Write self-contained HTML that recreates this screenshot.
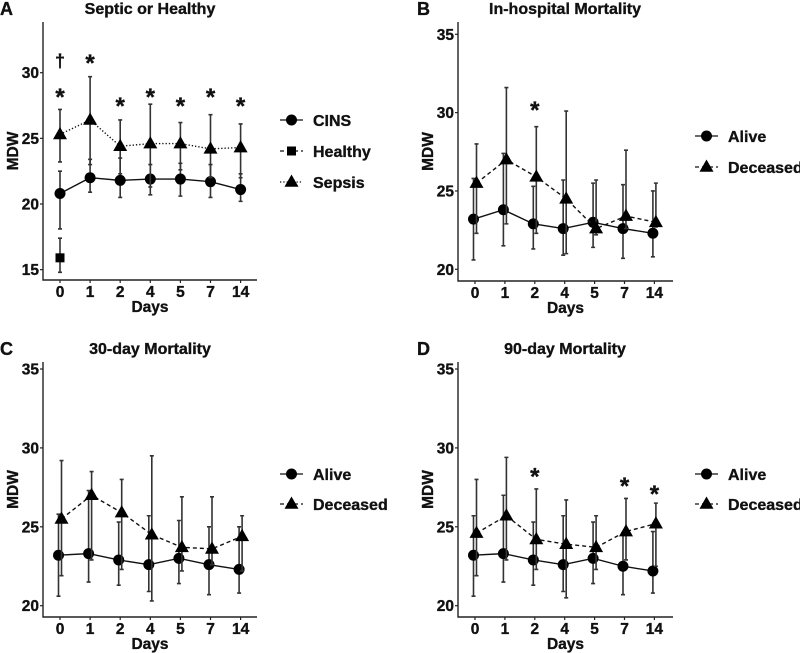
<!DOCTYPE html>
<html><head><meta charset="utf-8"><style>
html,body{margin:0;padding:0;background:#fff;}
svg{display:block;font-family:"Liberation Sans",Arial,sans-serif;font-weight:bold;}
svg text{stroke:#111;stroke-width:0.35px;}
</style></head><body>
<svg id="fig" width="800" height="653" viewBox="0 0 800 653"></svg>
<script>
const days = ["0","1","2","4","5","7","14"];
// Panel A
const aCinsMean = [20.8,22.0,21.8,21.9,21.9,21.7,21.1];
const aCinsLo   = [18.1,20.9,20.5,20.7,20.6,20.5,20.2];
const aCinsHi   = [22.5,23.4,23.5,23.0,23.1,23.0,22.3];
const aSepMean  = [25.3,26.4,24.4,24.6,24.6,24.2,24.3];
const aSepLo    = [23.2,23.0,22.3,21.3,22.6,22.0,22.0];
const aSepHi    = [27.2,29.7,26.4,27.6,26.2,26.8,26.1];
const aHealthyMean = [15.9];
const aHealthyLo = [14.8];
const aHealthyHi = [17.4];
const aTicks = [15,20,25,30];
const aStars = [28.3,30.9,27.6,28.3,27.6,28.3,27.6];
const aDagger = 30.9;
// Panel B
const bAliveMean = [23.2,23.8,22.9,22.6,23.0,22.6,22.3];
const bAliveLo   = [20.6,21.5,21.3,20.9,21.4,20.7,20.8];
const bAliveHi   = [25.8,27.4,25.3,25.7,25.5,25.4,25.0];
const bDecMean   = [25.5,27.0,25.9,24.5,22.6,23.4,23.0];
const bDecLo     = [22.3,22.9,22.3,21.0,22.2,22.6,22.7];
const bDecHi     = [28.0,31.6,29.1,30.1,25.7,27.6,25.5];
const bStars     = [null,null,30.3,null,null,null,null];
// Panel C
const cAliveMean = [23.2,23.3,22.9,22.6,23.0,22.6,22.3];
const cAliveLo   = [20.6,21.5,21.3,20.9,21.4,20.7,20.8];
const cAliveHi   = [25.8,27.3,25.3,25.7,25.4,25.0,25.0];
const cDecMean   = [25.5,27.0,25.9,24.5,23.7,23.6,24.4];
const cDecLo     = [21.9,22.9,22.3,20.3,22.2,22.6,22.2];
const cDecHi     = [29.2,28.5,28.0,29.5,26.9,26.9,25.7];
// Panel D
const dAliveMean = [23.2,23.3,22.9,22.6,23.0,22.5,22.2];
const dAliveLo   = [20.6,21.5,21.3,20.9,21.4,20.7,20.8];
const dAliveHi   = [25.7,27.0,25.3,25.7,25.3,24.6,24.7];
const dDecMean   = [24.6,25.7,24.2,23.9,23.7,24.7,25.2];
const dDecLo     = [21.9,22.9,22.3,20.5,22.3,22.9,22.5];
const dDecHi     = [28.0,29.4,27.4,26.7,25.7,26.8,26.5];
const dStars     = [null,null,28.3,null,null,27.7,27.2];
const bcdTicks = [20,25,30,35];

const NS="http://www.w3.org/2000/svg";
const svg=document.getElementById('fig');
function mk(tag,attrs,parent,text){
  const e=document.createElementNS(NS,tag);
  for(const k in attrs)e.setAttribute(k,attrs[k]);
  if(text!==undefined)e.textContent=text;
  (parent||svg).appendChild(e);return e;
}
function marker(g,shape,x,y){
  let m;
  if(shape==='circle'){m=mk('circle',{cx:x,cy:y,r:5.5,fill:'#000'},g);}
  else if(shape==='square'){m=mk('rect',{x:x-4.5,y:y-4.5,width:9,height:9,fill:'#000'},g);}
  else {m=mk('polygon',{points:`${x},${y-7.5} ${x-7},${y+4.8} ${x+7},${y+4.8}`,fill:'#000'},g);}
  return m;
}
const dashes={solid:'',dashed:'4,3',dotted:'1.3,2'};
function panel(p){
  const g=mk('g',{});
  
  
  const yv=v=>p.y0px+(v-p.y0)*(p.y1px-p.y0px)/(p.y1-p.y0);
  const xp=i=>p.ax+17+i*p.step;
  const ax=mk('path',{d:`M${p.ax},${p.top} V${p.bot} H${p.xend}`,stroke:'#222',fill:'none','stroke-width':1.4},g);
  
  
  p.ticks.forEach(t=>{
    mk('line',{x1:p.ax-3,x2:p.ax,y1:yv(t),y2:yv(t),stroke:'#222','stroke-width':1.2},g);
    const tl=mk('text',{x:p.ax-4,y:yv(t)+5.5,'text-anchor':'end','font-size':15.5,fill:'#111'},g,String(t));
    
    
  });
  days.forEach((d,i)=>{
    mk('line',{x1:xp(i),x2:xp(i),y1:p.bot,y2:p.bot+3,stroke:'#222','stroke-width':1.2},g);
    const tl=mk('text',{x:xp(i),y:p.bot+17,'text-anchor':'middle','font-size':15.5,fill:'#111'},g,d);
    
    
  });
  const xt=mk('text',{x:(p.ax+p.xend)/2,y:p.bot+32,'text-anchor':'middle','font-size':15.5,fill:'#111'},g,'Days');
  
  
  const yl=mk('text',{x:0,y:0,'text-anchor':'middle','font-size':15.5,fill:'#111',transform:`translate(${p.ax-25},${(p.top+p.bot)/2}) rotate(-90)`},g,'MDW');
  
  
  const ti=mk('text',{x:p.titleX,y:p.top-8,'text-anchor':'middle','font-size':16,fill:'#111'},g,p.title);
  
  
  const lt=mk('text',{x:p.letterX,y:p.top-7,'font-size':18,fill:'#111'},g,p.letter);
  
  
  p.series.forEach(s=>{
    const sg=mk('g',{},g);
    
    
    const pts=s.mean.map((v,i)=>[xp(i)+s.dx,yv(v)]);
    if(pts.length>1){
      const ln=mk('polyline',{points:pts.map(q=>q.join(',')).join(' '),fill:'none',stroke:'#111','stroke-width':1.4,'stroke-dasharray':dashes[s.dash]},sg);
      
      
    }
    s.mean.forEach((v,i)=>{
      const x=xp(i)+s.dx;
      const eb=mk('path',{d:`M${x},${yv(s.lo[i])} V${yv(s.hi[i])} M${x-2},${yv(s.lo[i])} H${x+2} M${x-2},${yv(s.hi[i])} H${x+2}`,stroke:'#333','stroke-width':1.6,fill:'none'},sg);
      
      
    });
    s.mean.forEach((v,i)=>{
      const m=marker(sg,s.shape,xp(i)+s.dx,yv(v));
      
      
    });
  });
  (p.stars||[]).forEach((v,i)=>{
    if(v===null)return;
    const st=mk('text',{x:xp(i),y:yv(v)+10,'text-anchor':'middle','font-size':24,fill:'#111'},g,'*');
    
    
  });
  if(p.dagger!==undefined){
    const dg=mk('text',{x:xp(0),y:yv(p.dagger)+6,'text-anchor':'middle','font-size':18,fill:'#111'},g,'†');
    
    
  }
  p.series.forEach((s,k)=>{
    const ly=p.legY+k*p.legGap;
    const lg=mk('g',{},g);
    
    
    mk('line',{x1:p.legX,x2:p.legX+23,y1:ly,y2:ly,stroke:'#111','stroke-width':1.3,'stroke-dasharray':dashes[s.dash]},lg);
    marker(lg,s.shape,p.legX+11.5,ly);
    mk('text',{x:p.legX+33,y:ly+6,'font-size':16,fill:'#111'},lg,s.label);
  });
}
panel({name:'panel-a',letter:'A',letterX:0,title:'Septic or Healthy',titleX:150,ax:43,xend:257,top:22,bot:280,step:30.1,
  y0:20,y0px:204,y1:30,y1px:72.7,ticks:aTicks,stars:aStars,dagger:aDagger,legX:280,legY:120,legGap:31,
  series:[
    {label:'CINS',mean:aCinsMean,lo:aCinsLo,hi:aCinsHi,shape:'circle',dash:'solid',dx:0},
    {label:'Healthy',mean:aHealthyMean,lo:aHealthyLo,hi:aHealthyHi,shape:'square',dash:'dashed',dx:0},
    {label:'Sepsis',mean:aSepMean,lo:aSepLo,hi:aSepHi,shape:'triangle',dash:'dotted',dx:0}
  ]});
panel({name:'panel-b',letter:'B',letterX:417,title:'In-hospital Mortality',titleX:565,ax:458,xend:673,top:22,bot:281,step:29.9,
  y0:20,y0px:269.3,y1:35,y1px:34.3,ticks:bcdTicks,stars:bStars,legX:695,legY:136,legGap:31,
  series:[
    {label:'Alive',mean:bAliveMean,lo:bAliveLo,hi:bAliveHi,shape:'circle',dash:'solid',dx:-1.5},
    {label:'Deceased',mean:bDecMean,lo:bDecLo,hi:bDecHi,shape:'triangle',dash:'dashed',dx:1.5}
  ]});
panel({name:'panel-c',letter:'C',letterX:0,title:'30-day Mortality',titleX:150,ax:43,xend:257,top:362,bot:617,step:30.1,
  y0:20,y0px:605.7,y1:35,y1px:369,ticks:bcdTicks,legX:280,legY:474,legGap:30,
  series:[
    {label:'Alive',mean:cAliveMean,lo:cAliveLo,hi:cAliveHi,shape:'circle',dash:'solid',dx:-1.5},
    {label:'Deceased',mean:cDecMean,lo:cDecLo,hi:cDecHi,shape:'triangle',dash:'dashed',dx:1.5}
  ]});
panel({name:'panel-d',letter:'D',letterX:417,title:'90-day Mortality',titleX:565,ax:458,xend:673,top:362,bot:617,step:29.9,
  y0:20,y0px:605.7,y1:35,y1px:369,ticks:bcdTicks,stars:dStars,legX:695,legY:474,legGap:30,
  series:[
    {label:'Alive',mean:dAliveMean,lo:dAliveLo,hi:dAliveHi,shape:'circle',dash:'solid',dx:-1.5},
    {label:'Deceased',mean:dDecMean,lo:dDecLo,hi:dDecHi,shape:'triangle',dash:'dashed',dx:1.5}
  ]});
</script>
</body></html>
